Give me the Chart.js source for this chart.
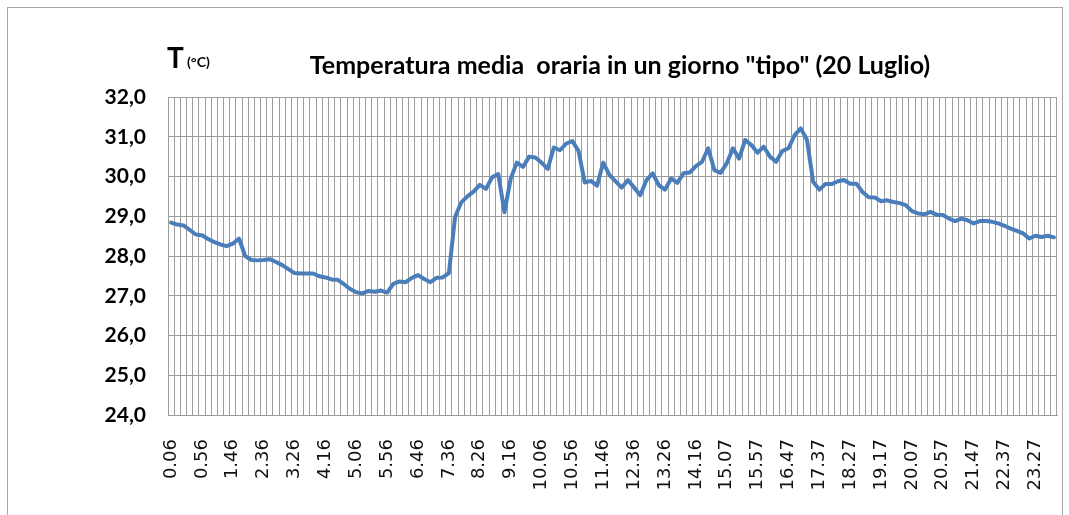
<!DOCTYPE html>
<html>
<head>
<meta charset="utf-8">
<script src="https://cdn.jsdelivr.net/npm/chart.js@4"></script>
<style>
  html, body { margin: 0; padding: 0; background: #fff; }
  #wrap { position: relative; width: 1069px; height: 515px; }
</style>
</head>
<body>
<div id="wrap"><canvas id="myChart"></canvas></div>
<script>
// orari di misura (ogni 10 minuti)
const times = [
  '0.06', '0.16', '0.26', '0.36', '0.46', '0.56',
  '1.06', '1.16', '1.26', '1.36', '1.46', '1.56',
  '2.06', '2.16', '2.26', '2.36', '2.46', '2.56',
  '3.06', '3.16', '3.26', '3.36', '3.46', '3.56',
  '4.06', '4.16', '4.26', '4.36', '4.46', '4.56',
  '5.06', '5.16', '5.26', '5.36', '5.46', '5.56',
  '6.06', '6.16', '6.26', '6.36', '6.46', '6.56',
  '7.06', '7.16', '7.26', '7.36', '7.46', '7.56',
  '8.06', '8.16', '8.26', '8.36', '8.46', '8.56',
  '9.06', '9.16', '9.26', '9.36', '9.46', '9.56',
  '10.06', '10.16', '10.26', '10.36', '10.46', '10.56',
  '11.06', '11.16', '11.26', '11.36', '11.46', '11.56',
  '12.06', '12.16', '12.26', '12.36', '12.46', '12.56',
  '13.06', '13.16', '13.26', '13.36', '13.46', '13.56',
  '14.06', '14.16', '14.26', '14.36', '14.46', '14.56',
  '15.07', '15.17', '15.27', '15.37', '15.47', '15.57',
  '16.07', '16.17', '16.27', '16.37', '16.47', '16.57',
  '17.07', '17.17', '17.27', '17.37', '17.47', '17.57',
  '18.07', '18.17', '18.27', '18.37', '18.47', '18.57',
  '19.07', '19.17', '19.27', '19.37', '19.47', '19.57',
  '20.07', '20.17', '20.27', '20.37', '20.47', '20.57',
  '21.07', '21.17', '21.27', '21.37', '21.47', '21.57',
  '22.07', '22.17', '22.27', '22.37', '22.47', '22.57',
  '23.07', '23.17', '23.27', '23.37', '23.47', '23.57'
];

// temperatura media (°C)
const temps = [
  28.84, 28.79, 28.77, 28.66, 28.54, 28.52,
  28.43, 28.35, 28.29, 28.25, 28.31, 28.44,
  28.00, 27.90, 27.89, 27.90, 27.92, 27.85,
  27.77, 27.67, 27.57, 27.56, 27.56, 27.56,
  27.49, 27.46, 27.41, 27.40, 27.29, 27.17,
  27.09, 27.06, 27.12, 27.10, 27.13, 27.08,
  27.30, 27.36, 27.34, 27.45, 27.52, 27.42,
  27.34, 27.45, 27.46, 27.57, 28.98, 29.35,
  29.50, 29.62, 29.79, 29.69, 29.98, 30.06,
  29.10, 29.94, 30.35, 30.24, 30.50, 30.48,
  30.35, 30.19, 30.73, 30.66, 30.83, 30.89,
  30.64, 29.85, 29.89, 29.77, 30.35, 30.04,
  29.88, 29.72, 29.91, 29.72, 29.53, 29.91,
  30.08, 29.78, 29.67, 29.95, 29.84, 30.08,
  30.10, 30.26, 30.37, 30.71, 30.16, 30.09,
  30.33, 30.71, 30.45, 30.92, 30.79, 30.60,
  30.75, 30.50, 30.37, 30.64, 30.71, 31.04,
  31.21, 30.92, 29.87, 29.67, 29.81, 29.81,
  29.88, 29.91, 29.82, 29.82, 29.61, 29.48,
  29.47, 29.38, 29.40, 29.36, 29.33, 29.28,
  29.13, 29.07, 29.05, 29.11, 29.04, 29.03,
  28.94, 28.88, 28.94, 28.90, 28.82, 28.88,
  28.88, 28.86, 28.82, 28.76, 28.69, 28.63,
  28.57, 28.44, 28.51, 28.48, 28.51, 28.47
];

const yMin = 24;
const yMax = 32;
const labelEvery = 5;
const titleText = 'Temperatura media  oraria in un giorno "tipo" (20 Luglio)';

const gridColor = '#9c9c9c';

// cornice esterna, titolo e unità di misura
const decorations = {
  id: 'decorations',
  beforeDraw(chart) {
    const { ctx } = chart;
    ctx.save();
    ctx.strokeStyle = '#a6a6a6';
    ctx.lineWidth = 1;
    ctx.strokeRect(7.5, 7.5, 1055, 530);
    ctx.restore();
  },
  afterDraw(chart) {
    const { ctx } = chart;
    ctx.save();
    ctx.fillStyle = '#000';
    ctx.textBaseline = 'alphabetic';
    ctx.textAlign = 'center';
    ctx.font = 'bold 25px Lato';
    ctx.fillText(titleText, 620, 74);
    ctx.textAlign = 'left';
    ctx.font = 'bold 28px Lato';
    ctx.fillText('T', 167, 68);
    ctx.font = 'bold 14px Lato';
    ctx.fillText('(°C)', 187, 67);
    ctx.restore();
  }
};

const ctx = document.getElementById('myChart').getContext('2d');

new Chart(ctx, {
  type: 'line',
  data: {
    labels: times,
    datasets: [{
      data: temps,
      borderColor: '#4a7ebb',
      borderWidth: 4,
      borderJoinStyle: 'round',
      borderCapStyle: 'round',
      pointRadius: 0,
      tension: 0,
      fill: false
    }]
  },
  options: {
    responsive: true,
    maintainAspectRatio: false,
    animation: false,
    layout: {
      padding: { left: 0, top: 97, right: 12, bottom: 0 }
    },
    plugins: {
      legend: { display: false },
      tooltip: { enabled: false }
    },
    scales: {
      x: {
        type: 'category',
        offset: true,
        grid: {
          offset: true,
          color: gridColor,
          lineWidth: 1,
          drawTicks: false
        },
        border: { color: gridColor, width: 1 },
        ticks: {
          autoSkip: false,
          maxRotation: 90,
          minRotation: 90,
          padding: 24,
          color: '#111',
          font: { family: 'DejaVu Sans', size: 18 },
          callback: function (value, index) {
            return index % labelEvery === 0 ? this.getLabelForValue(value) : '';
          }
        },
        afterFit(scale) {
          scale.height = 100;
          scale.paddingLeft = 0;
          scale.paddingRight = 0;
        }
      },
      y: {
        min: yMin,
        max: yMax,
        grid: {
          color: gridColor,
          lineWidth: 1,
          drawTicks: false
        },
        border: { color: gridColor, width: 1 },
        ticks: {
          stepSize: 1,
          padding: 22,
          color: '#000',
          font: { family: 'Lato', size: 21, weight: 'bold' },
          callback: (v) => v.toFixed(1).replace('.', ',')
        },
        afterFit(scale) {
          scale.width = 168;
          scale.paddingTop = 0;
          scale.paddingBottom = 0;
        }
      }
    }
  },
  plugins: [decorations]
});
</script>
</body>
</html>
